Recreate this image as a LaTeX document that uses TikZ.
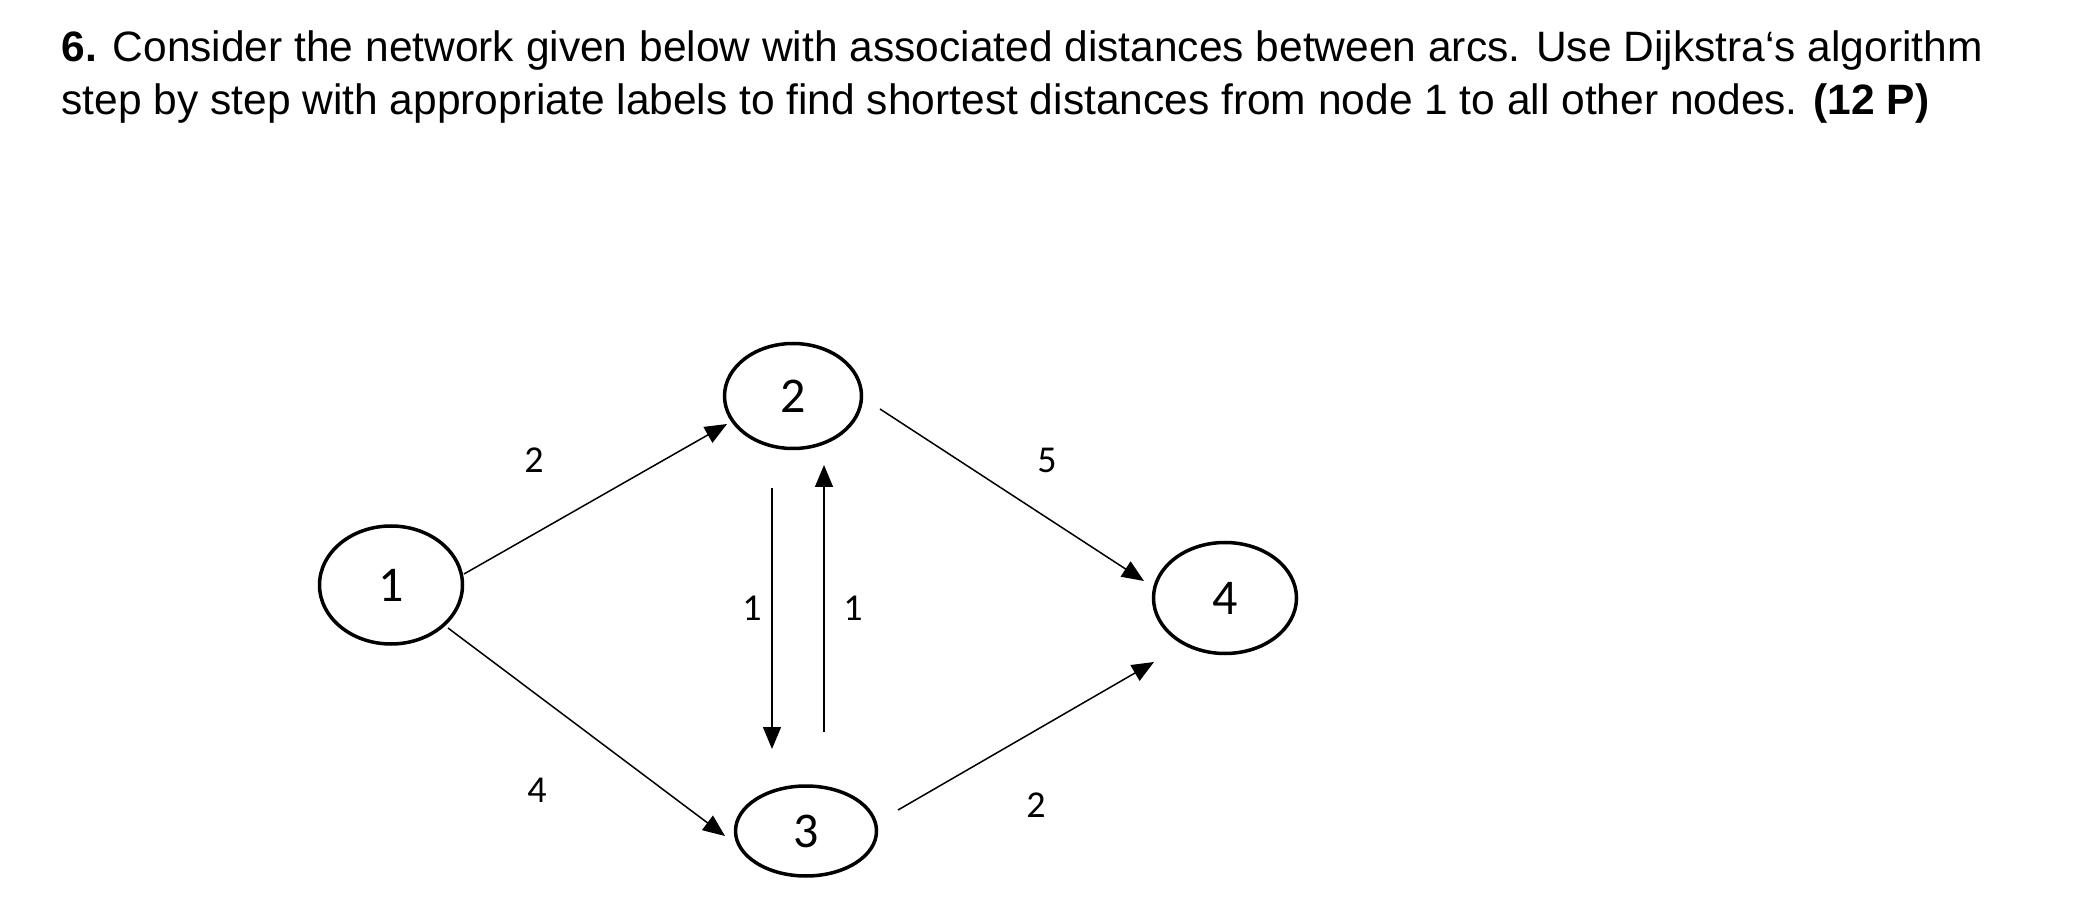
\documentclass[tikz,border=0pt]{standalone}
\usepackage{fontspec}
\setmainfont{Liberation Sans}
\newfontfamily\carlitofont{Carlito}
\usetikzlibrary{shapes.geometric,arrows.meta}
\begin{document}
\begin{tikzpicture}[x=1pt,y=1pt,
  vert/.style={draw,ellipse,line width=3.5pt,minimum width=#1,inner sep=0pt,font=\carlitofont\fontsize{50}{60}\selectfont},
  arc/.style={line width=1.5pt,-{Triangle[length=22pt,width=18pt]}},
  lab/.style={font=\carlitofont\fontsize{38}{46}\selectfont}]
\useasboundingbox (0,0) rectangle (2078,898);
\node[anchor=base west,font=\fontsize{42.5}{50}\selectfont] (t1) at (58,836) {\textbf{6.} Consider the network given below with associated distances between arcs. Use Dijkstra{\char96}s algorithm};
\node[anchor=base west,font=\fontsize{42.5}{50}\selectfont] (t2) at (58,783) {step by step with appropriate labels to find shortest distances from node 1 to all other nodes. \textbf{(12 P)}};
\node[vert=143pt,minimum height=118pt] (n1) at (391,313) {1};
\node[vert=137pt,minimum height=105pt] (n2) at (793,502) {2};
\node[vert=141pt,minimum height=90pt] (n3) at (806,67) {3};
\node[vert=143pt,minimum height=111pt] (n4) at (1225,300) {4};
\coordinate (a1) at (464,324); \coordinate (b1) at (727,474);
\coordinate (a2) at (448,270); \coordinate (b2) at (725,62);
\coordinate (a3) at (880,489); \coordinate (b3) at (1144,317);
\coordinate (a4) at (898,88); \coordinate (b4) at (1154,236);
\coordinate (a5) at (772,410); \coordinate (b5) at (772,149);
\coordinate (a6) at (824,166); \coordinate (b6) at (824,433);
\draw[arc] (a1) -- (b1);
\draw[arc] (a2) -- (b2);
\draw[arc] (a3) -- (b3);
\draw[arc] (a4) -- (b4);
\draw[arc] (a5) -- (b5);
\draw[arc] (a6) -- (b6);
\node[lab] (l1) at (534,438) {2};
\node[lab] (l2) at (537,108) {4};
\node[lab] (l3) at (1047,438) {5};
\node[lab] (l4) at (1036,93) {2};
\node[lab] (l5) at (752,290) {1};
\node[lab] (l6) at (853,290) {1};
\end{tikzpicture}
\end{document}
